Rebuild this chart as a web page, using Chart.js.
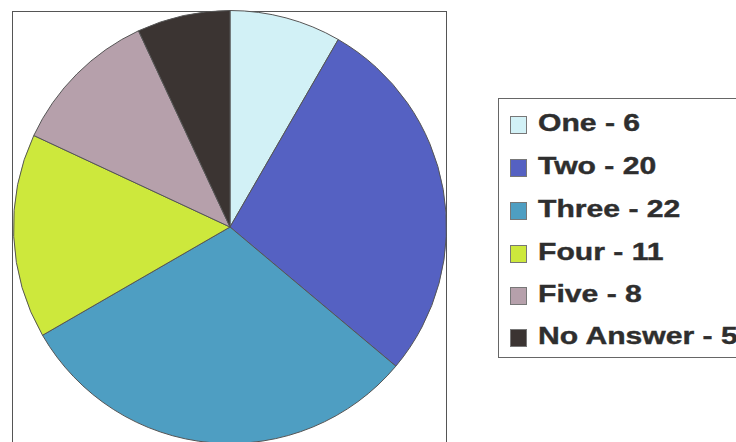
<!DOCTYPE html>
<html>
<head>
<meta charset="utf-8">
<script src="https://cdn.jsdelivr.net/npm/chart.js@4/dist/chart.umd.min.js"></script>
<style>
  body { margin: 0; background: #fff; width: 736px; height: 442px; overflow: hidden; position: relative; }
  #pieBox { position: absolute; left: 12px; top: 11px; width: 433px; height: 450px; border: 1px solid #555; }
  #pieWrap { position: absolute; left: 13px; top: 10px; }
  #legendBox { position: absolute; left: 498px; top: 98px; width: 260px; height: 258px; border: 1px solid #666; }
  .row { position: absolute; left: 0; height: 24px; }
  .sw { position: absolute; left: 11px; top: 2px; width: 15px; height: 16px; border: 1px solid #777; }
  .lbl { position: absolute; left: 39px; top: -5px; font: bold 24px "Liberation Sans", Arial, sans-serif;
         color: #2e2e2e; white-space: nowrap; transform: scaleX(1.255); transform-origin: left center;
         -webkit-text-stroke: 0.4px #2e2e2e; }
</style>
</head>
<body>
<div id="pieBox"></div>
<div id="pieWrap"><canvas id="grafica" width="434" height="434"></canvas></div>
<div id="legendBox"></div>
<script>
const categorias = ["One", "Two", "Three", "Four", "Five", "No Answer"];
const valores = [6, 20, 22, 11, 8, 5];
const colores = ["#D2F1F6", "#5561C2", "#4E9EC2", "#CDE83C", "#B6A0AB", "#3B3432"];

// leyenda en html, una fila por categoria
const leyenda = document.getElementById("legendBox");
const filasY = [15, 58, 101, 144, 186, 228];
categorias.forEach((cat, i) => {
  const fila = document.createElement("div");
  fila.className = "row";
  fila.style.top = filasY[i] + "px";
  fila.innerHTML = `
    <div class="sw" style="background:${colores[i]}"></div>
    <div class="lbl">${cat} - ${valores[i]}</div>
  `;
  leyenda.appendChild(fila);
});

const ctx = document.getElementById("grafica");
new Chart(ctx, {
  type: "pie",
  data: {
    labels: categorias,
    datasets: [{
      data: valores,
      backgroundColor: colores,
      borderColor: "#555",
      borderWidth: 1
    }]
  },
  options: {
    responsive: false,
    animation: false,
    layout: { padding: 0 },
    plugins: {
      legend: { display: false },
      tooltip: { enabled: false }
    }
  }
});
</script>
</body>
</html>
